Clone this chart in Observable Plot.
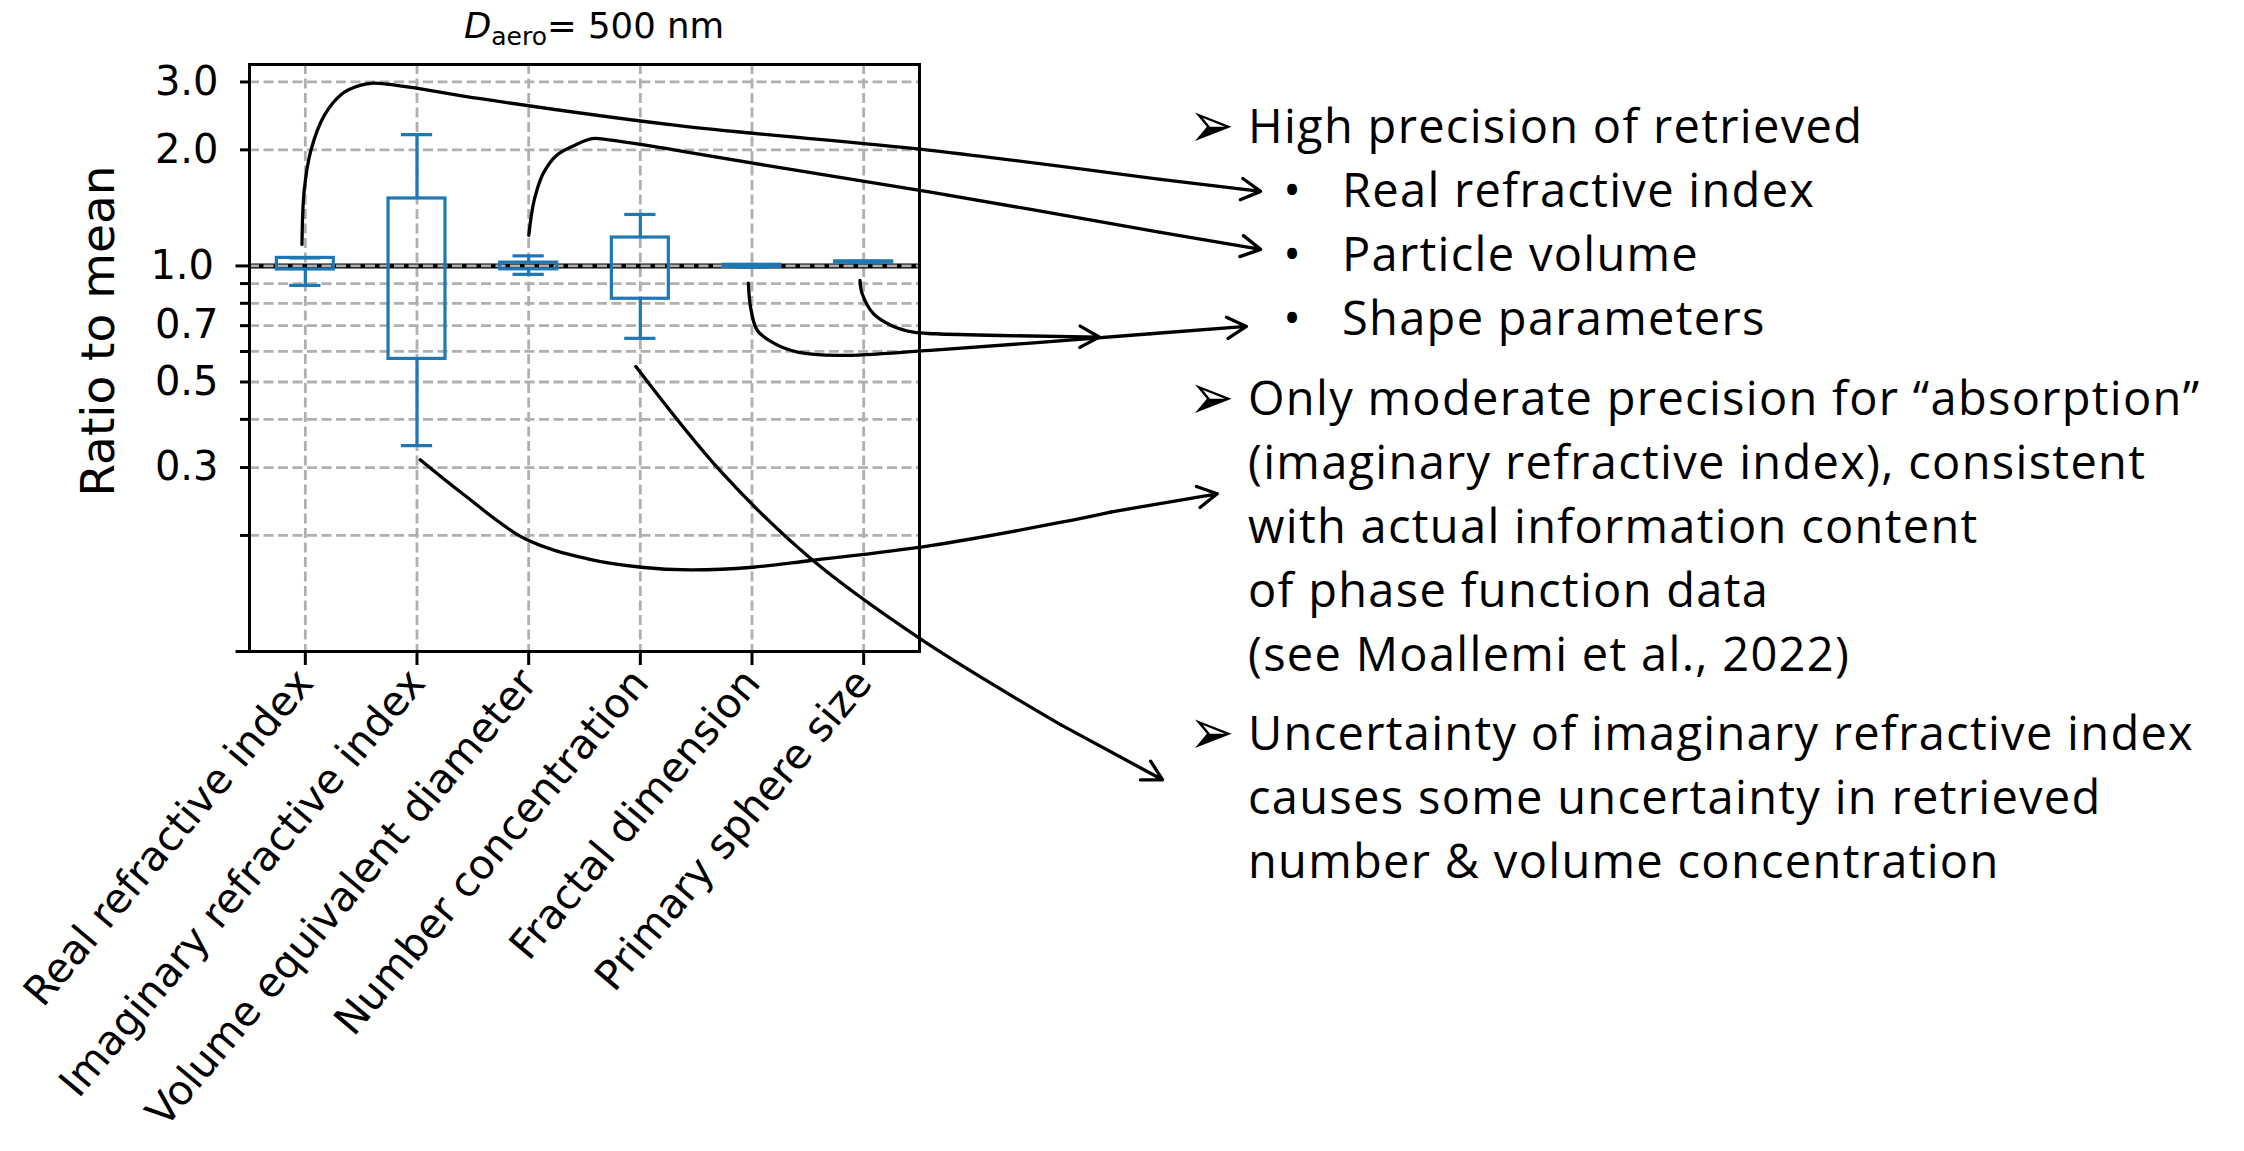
<!DOCTYPE html>
<html>
<head>
<meta charset="utf-8">
<script src="https://cdn.jsdelivr.net/npm/d3@7"></script>
<script src="https://cdn.jsdelivr.net/npm/@observablehq/plot@0.6"></script>
<style>
html, body { margin: 0; padding: 0; background: #fff; }
#fig { position: relative; width: 2244px; height: 1151px; overflow: hidden; background: #fff; }
#fig > svg { position: absolute; left: 0; top: 0; }
</style>
</head>
<body>
<div id="fig"></div>
<script>
// ---------- data ----------
const categories = ["Real refractive index", "Imaginary refractive index", "Volume equivalent diameter",
                    "Number concentration", "Fractal dimension", "Primary sphere size"];
const whiskerLow  = [0.890, 0.342, 0.951, 0.649, 0.993, 1.020];
const boxLow      = [0.979, 0.574, 0.980, 0.822, 0.993, 1.020];
const boxHigh     = [1.049, 1.496, 1.020, 1.185, 1.007, 1.028];
const whiskerHigh = [1.049, 2.190, 1.062, 1.360, 1.007, 1.028];

const yTicksLabeledMinor = [0.3, 0.5, 0.7, 2, 3];
const yTicksLabeledMajor = [1];
const yTicksMinor = [0.2, 0.4, 0.6, 0.8, 0.9];
const yTicksMajor = [0.1];
const yGrid = [0.2, 0.3, 0.4, 0.5, 0.6, 0.7, 0.8, 0.9, 1, 2, 3];
const refValue = [1];

const titleText = ["D", "aero", "= 500 nm"];
const yLabelText = "Ratio to mean";

// annotation curves, in (category index, ratio) units; last two points = arrow shaft
const annoRealRI = [[-0.030,1.137],[-0.010,1.570],[0.050,1.994],[0.170,2.457],[0.330,2.797],[0.490,2.940],[0.610,2.980],[0.930,2.910],[1.569,2.715],[3.324,2.315],[5.599,1.994],[7.659,1.676],[8.555,1.561]];
const annoVolume = [[2.001,1.200],[2.049,1.479],[2.129,1.735],[2.249,1.935],[2.409,2.054],[2.568,2.138],[2.688,2.129],[3.328,1.994],[4.127,1.823],[5.599,1.554],[7.659,1.222],[8.555,1.104]];
const annoFractal = [[3.968,0.902],[3.987,0.782],[4.048,0.680],[4.207,0.628],[4.408,0.598],[4.767,0.586],[5.599,0.604],[7.569,0.667],[8.428,0.697]];
const annoPrimary = [[4.967,0.917],[4.987,0.847],[5.087,0.752],[5.247,0.701],[5.446,0.673],[5.640,0.667],[6.226,0.660],[7.110,0.654]];
const annoImag = [[1.029,0.3142],[1.409,0.2565],[1.968,0.1960],[2.528,0.1739],[3.008,0.1654],[3.448,0.1628],[4.007,0.1654],[4.528,0.1722],[5.599,0.1883],[6.771,0.2164],[7.211,0.2300],[8.166,0.2565]];
const annoNumber = [[2.960,0.5486],[3.727,0.2918],[4.528,0.1739],[5.508,0.1078],[6.763,0.0646],[7.676,0.0465]];

const noteHeads = ["High precision of retrieved", "Only moderate precision for \u201Cabsorption\u201D", "Uncertainty of imaginary refractive index"];
const noteBullets = ["Real refractive index", "Particle volume", "Shape parameters"];
const noteCont2 = ["(imaginary refractive index), consistent", "with actual information content", "of phase function data", "(see Moallemi et al., 2022)"];
const noteCont3 = ["causes some uncertainty in retrieved", "number & volume concentration"];

// ---------- derived tables ----------
const idx = d3.range(categories.length);
const boxes = idx.map(i => ({i, wl: whiskerLow[i], q1: boxLow[i], q3: boxHigh[i], wh: whiskerHigh[i]}));
const annos = [annoRealRI, annoVolume, annoFractal, annoPrimary, annoImag, annoNumber];
const curvePts = annos.flatMap((a, k) => a.slice(0, -1).map(([x, y]) => ({k, x, y})));
const arrowSegs = annos.map((a, k) => ({k, x1: a[a.length - 2][0], y1: a[a.length - 2][1], x2: a[a.length - 1][0], y2: a[a.length - 1][1]}));

const blue = "#1f77b4";
const gridColor = "#b0b0b0";
const W = 2244, H = 1151;
const frameL = 249, frameR = 919, frameT = 64, frameB = 651;

const gridStyle = {stroke: gridColor, strokeOpacity: 1, strokeWidth: 2.8, strokeDasharray: "10,4.5"};
const tickFont = 40;
const boxSW = 3.2, lineSW = 3.3;

const chart = Plot.plot({
  width: W, height: H,
  marginLeft: frameL, marginRight: W - frameR, marginTop: frameT, marginBottom: H - frameB,
  style: {fontFamily: "'DejaVu Sans', sans-serif", color: "black", background: "transparent", overflow: "visible"},
  x: {type: "linear", domain: [-0.5, 5.5], axis: null},
  y: {type: "log", domain: [0.1, 3.33], axis: null},
  marks: [
    Plot.gridX(idx, gridStyle),
    Plot.gridY(yGrid, gridStyle),
    Plot.ruleY(refValue, {stroke: "black", strokeWidth: 5}),
    Plot.gridY(refValue, gridStyle),
    // whiskers
    Plot.ruleX(boxes, {x: "i", y1: "wl", y2: "q1", stroke: blue, strokeWidth: boxSW}),
    Plot.ruleX(boxes, {x: "i", y1: "q3", y2: "wh", stroke: blue, strokeWidth: boxSW}),
    // caps
    Plot.ruleY(boxes, {y: "wl", x1: d => d.i - 0.14, x2: d => d.i + 0.14, stroke: blue, strokeWidth: boxSW}),
    Plot.ruleY(boxes, {y: "wh", x1: d => d.i - 0.14, x2: d => d.i + 0.14, stroke: blue, strokeWidth: boxSW}),
    // boxes
    Plot.rect(boxes, {x1: d => d.i - 0.255, x2: d => d.i + 0.255, y1: "q1", y2: "q3", fill: "none", stroke: blue, strokeWidth: boxSW}),
    Plot.frame({stroke: "black", strokeWidth: 3}),
    // axes
    Plot.axisY(yTicksLabeledMinor, {anchor: "left", tickSize: 9, tickPadding: 22, tickFormat: d3.format(".1f"), fontSize: tickFont, strokeWidth: 3, label: null}),
    Plot.axisY(yTicksLabeledMajor, {anchor: "left", tickSize: 13.5, tickPadding: 22, tickFormat: d3.format(".1f"), fontSize: tickFont, strokeWidth: 3, label: null}),
    Plot.axisY(yTicksMinor, {anchor: "left", tickSize: 9, text: null, strokeWidth: 3, label: null}),
    Plot.axisY(yTicksMajor, {anchor: "left", tickSize: 13.5, text: null, strokeWidth: 3, label: null}),
    Plot.axisX(idx, {anchor: "bottom", tickSize: 14, tickPadding: 10, tickRotate: -50, tickFormat: i => categories[i], fontSize: 41, strokeWidth: 3, label: null}),
    // annotation curves + arrows
    Plot.line(curvePts, {x: "x", y: "y", z: "k", curve: "catmull-rom", stroke: "black", strokeWidth: lineSW, clip: false}),
    Plot.arrow(arrowSegs, {x1: "x1", y1: "y1", x2: "x2", y2: "y2", stroke: "black", strokeWidth: lineSW, headLength: 10, headAngle: 58})
  ]
});

const fig = document.getElementById("fig");
fig.appendChild(chart);

// ---------- text overlay ----------
const ov = d3.select(fig).append("svg").attr("width", W).attr("height", H)
  .style("pointer-events", "none");

// title
const t = ov.append("text").attr("x", 594).attr("y", 38).attr("text-anchor", "middle")
  .attr("font-family", "'DejaVu Sans', sans-serif").attr("font-size", 35.5).attr("fill", "black");
t.append("tspan").attr("font-style", "italic").text(titleText[0]);
t.append("tspan").attr("font-size", 25).attr("dy", 7).text(titleText[1]);
t.append("tspan").attr("dy", -7).text(titleText[2]);

// y label
ov.append("text").attr("transform", "translate(114,331) rotate(-90)").attr("text-anchor", "middle")
  .attr("font-family", "'DejaVu Sans', sans-serif").attr("font-size", 47).attr("fill", "black").text(yLabelText);

// notes
const noteFont = "'Open Sans', sans-serif";
const noteSize = 47;
const markX = 1189, textX = 1248, bulletX = 1292, bulletTextX = 1342;
function line(x, y, s, anchor) {
  ov.append("text").attr("x", x).attr("y", y).attr("text-anchor", anchor || "start")
    .attr("font-family", noteFont).attr("font-size", noteSize).attr("letter-spacing", anchor ? 0 : 1.3)
    .attr("fill", "black").text(s);
}
function mark(y) {
  ov.append("text").attr("transform", `translate(${markX},${y}) scale(1,1.2)`)
    .attr("font-family", "'DejaVu Sans', sans-serif").attr("font-size", 54).attr("fill", "black").text("\u27A2");
}
const headY = [143, 415, 750];
const bulletY = [207, 271, 335];
const cont2Y = [479, 543, 607, 671];
const cont3Y = [814, 878];
noteHeads.forEach((s, i) => { mark(headY[i] + 4); line(textX, headY[i], s); });
noteBullets.forEach((s, i) => { line(bulletX, bulletY[i], "\u2022", "middle"); line(bulletTextX, bulletY[i], s); });
noteCont2.forEach((s, i) => line(textX, cont2Y[i], s));
noteCont3.forEach((s, i) => line(textX, cont3Y[i], s));
</script>
</body>
</html>
